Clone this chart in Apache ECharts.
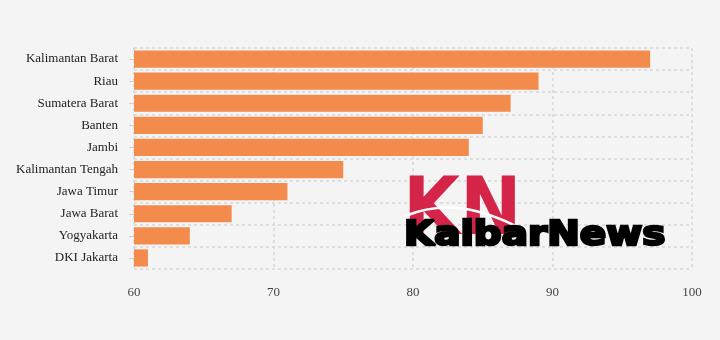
<!DOCTYPE html>
<html>
<head>
<meta charset="utf-8">
<script src="https://cdn.jsdelivr.net/npm/echarts@6/dist/echarts.min.js"></script>
<style>
html,body{margin:0;padding:0;background:#f4f4f4;}
#chart{width:720px;height:340px;}
</style>
</head>
<body>
<div id="chart"></div>
<script>
var categories = ["Kalimantan Barat","Riau","Sumatera Barat","Banten","Jambi","Kalimantan Tengah","Jawa Timur","Jawa Barat","Yogyakarta","DKI Jakarta"];
var values = [97, 89, 87, 85, 84, 75, 71, 67, 64, 61];
var xTicks = [60, 70, 80, 90, 100];

var chart = echarts.init(document.getElementById('chart'), null, {renderer:'canvas'});
var option = {
  backgroundColor: '#f4f4f4',
  animation: false,
  grid: {left: 134, right: 28, top: 48, bottom: 71},
  xAxis: {
    type: 'value',
    min: xTicks[0],
    max: xTicks[xTicks.length-1],
    interval: 10,
    axisLine: {show: false},
    axisTick: {show: false},
    axisLabel: {margin: 17, color: '#444', fontFamily: 'Liberation Serif', fontSize: 13},
    splitLine: {show: true, lineStyle: {color: '#d6d6d6', type: [3,3], width: 1.5}}
  },
  yAxis: {
    type: 'category',
    data: categories,
    inverse: true,
    axisLine: {show: false},
    axisTick: {show: true, alignWithLabel: true, length: 5, lineStyle: {color: '#d0d0d0'}},
    axisLabel: {margin: 16, color: '#222', fontFamily: 'Liberation Serif', fontSize: 13},
    splitLine: {show: true, lineStyle: {color: '#d6d6d6', type: [3,3], width: 1.5}}
  },
  series: [{
    type: 'bar',
    data: values,
    barCategoryGap: '22%',
    itemStyle: {color: '#f28b4c'},
    z: 2
  }],
  graphic: [
    {
      type: 'text',
      x: 403, y: 173,
      z: 10,
      scaleX: 0.92,
      style: {
        text: 'KN',
        font: 'bold 80px "DejaVu Sans"',
        fill: '#d42448'
      }
    },
    {
      type: 'bezierCurve',
      z: 11,
      shape: {x1: 405, y1: 216, x2: 520, y2: 228, cpx1: 445, cpy1: 200, cpx2: 480, cpy2: 208},
      style: {stroke: '#ffffff', lineWidth: 2.5, fill: null}
    },
    {
      type: 'text',
      x: 404, y: 220,
      z: 12,
      scaleX: 1.18,
      style: {
        text: 'KalbarNews',
        font: 'bold 33px "DejaVu Sans"',
        fill: '#000000',
        stroke: '#000000',
        lineWidth: 2.5
      }
    }
  ]
};
chart.setOption(option);
</script>
</body>
</html>
